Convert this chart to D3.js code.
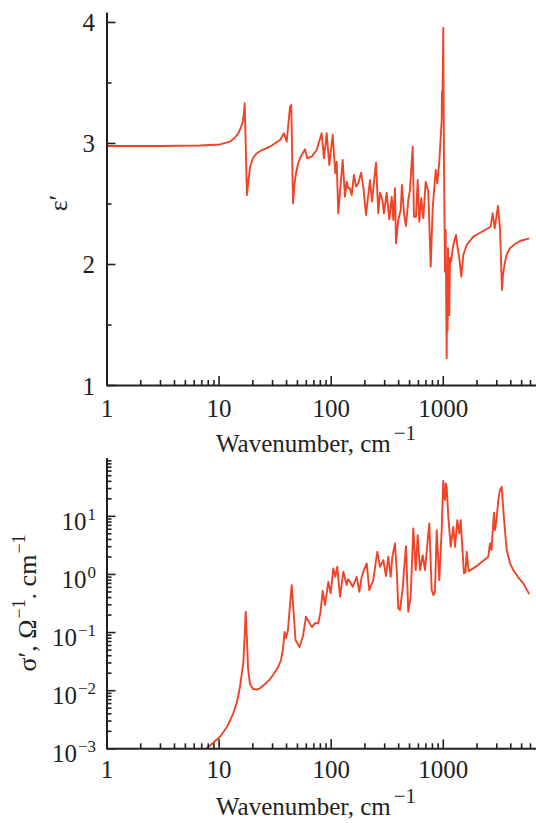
<!DOCTYPE html>
<html>
<head>
<meta charset="utf-8">
<script src="https://cdn.jsdelivr.net/npm/d3@7"></script>
<style>
  html, body { margin: 0; padding: 0; background: #fff; }
  svg { display: block; }
  text { font-family: "Liberation Serif", "Times New Roman", serif; fill: #231f20; }
</style>
</head>
<body>
<svg id="chart" width="536" height="823"></svg>
<script>
// Real part of permittivity, eps'(nu)
const epsNu = [1, 3.0, 6.82, 10.3, 12.6, 13.72, 15.0, 15.85, 16.4, 16.85, 17.1, 17.9, 18.3, 19.1, 20.27, 21.9, 24.39, 28.7,
  35.3, 38.3, 40.5, 43.4, 44.5, 46.1, 47.5, 49.0, 51.1, 53.2, 59.0, 61.8, 67.7, 75.0, 83.1, 87.1, 92.1, 97.2,
  104.2, 109.9, 113.1, 116.9, 127.9, 134.2, 138.9, 143.5, 148.6, 153.9, 161.4, 168.2, 176.3, 186.4, 195.4,
  206.5, 224.2, 233.6, 253.6, 265.9, 275.4, 288.7, 298.9, 315.9, 333.3, 350.2, 361.9, 374.7, 382.5, 400.9,
  421.1, 432.5, 450.7, 469.6, 492.3, 509.8, 538.9, 553.5, 576.7, 597.2, 617.2, 643.0, 669.9, 704.0, 742.6,
  780.2, 812.9, 864.6, 893.4, 930.9, 977.7, 983.8, 992, 1001, 1010, 1018, 1025, 1046, 1061, 1083, 1095, 1105, 1113,
  1125, 1143, 1160, 1184, 1241, 1312, 1358, 1404, 1463, 1524, 1634, 1872, 2061, 2298, 2675, 2787, 2904, 3108,
  3238, 3375, 3443, 3588, 3739, 3977, 4407, 4884, 5909];
const epsVal = [2.975, 2.975, 2.979, 2.988, 3.011, 3.037, 3.080, 3.132, 3.176, 3.248, 3.328, 2.570, 2.653, 2.804, 2.876, 2.915, 2.942, 2.969,
  3.025, 3.080, 3.011, 3.300, 3.314, 2.502, 2.653, 2.750, 2.826, 2.874, 2.948, 2.874, 2.887, 2.942, 3.080, 2.874, 3.080, 2.818,
  3.066, 2.750, 2.845, 2.419, 2.860, 2.556, 2.680, 2.626, 2.626, 2.570, 2.736, 2.639, 2.667, 2.755, 2.639,
  2.405, 2.694, 2.515, 2.837, 2.419, 2.589, 2.529, 2.419, 2.589, 2.369, 2.556, 2.364, 2.626, 2.171, 2.364,
  2.446, 2.653, 2.419, 2.314, 2.529, 2.612, 2.969, 2.391, 2.391, 2.694, 2.350, 2.543, 2.378, 2.680, 2.598,
  1.978, 2.460, 2.777, 2.667, 2.845, 3.190, 3.424, 3.300, 3.620, 3.953, 3.400, 2.835, 1.936, 2.281, 1.221, 1.950, 1.450, 2.130,
  1.750, 1.579, 2.050, 2.019, 2.157, 2.240, 2.130, 2.047, 1.895, 2.074, 2.157, 2.226, 2.248, 2.273, 2.308, 2.419, 2.295, 2.479,
  2.295, 1.785, 1.909, 2.019, 2.083, 2.130, 2.165, 2.190, 2.212];

// Real part of conductivity, sigma'(nu), Ohm^-1 cm^-1
const sigNu = [7.83, 8.91, 10.29, 11.88, 13.52, 14.59, 15.52, 16.17, 16.61, 17.02, 17.45, 17.92, 18.30, 19.06, 20.27, 21.88,
  23.40, 25.94, 28.74, 31.85, 34.09, 36.03, 37.55, 38.72, 39.93, 41.60, 43.35, 44.88, 46.57, 48.53, 52.69, 56.62,
  60.22, 65.36, 68.11, 72.44, 77.5, 81.1, 84.9, 88.95, 95.2, 100, 105.5, 109.9, 114.5, 121.1, 129.6, 138.9, 142.7,
  148.6, 157.1, 170.6, 179.9, 188.3, 195.4, 209.5, 221.0, 239.9, 260.4, 275.4, 294.6, 311.5, 326.5, 343.0, 354.4,
  374.7, 390.4, 400.9, 415.2, 438.9, 450.7, 469.6, 492.3, 517.1, 545.8, 573.3, 597.2, 626.0, 661.9, 693.8, 722.9,
  758.1, 796.2, 826.2, 851.9, 882.3, 930.9, 977.7, 994, 1010, 1028, 1046, 1064, 1083, 1120, 1177, 1241, 1285, 1347, 1404, 1444,
  1505, 1546, 1594, 1634, 1702, 1822, 2061, 2284, 2546, 2636, 2719, 2862, 2922, 3013, 3127, 3238, 3354, 3443,
  3515, 3716, 3976, 4255, 4688, 5226, 5909];
const sigVal = [0.00100, 0.00123, 0.00158, 0.00232, 0.0040, 0.00625, 0.01146, 0.0205, 0.0290, 0.0729, 0.2234, 0.0729, 0.0240, 0.01276, 0.01047, 0.01026,
  0.01076, 0.01276, 0.01537, 0.0205, 0.0253, 0.0330, 0.0510, 0.100, 0.0788, 0.1083, 0.291, 0.643, 0.239, 0.0729, 0.0552, 0.0853,
  0.1833, 0.1373, 0.1219, 0.1428, 0.1411, 0.2208, 0.513, 0.291, 0.733, 0.463, 1.246, 0.893, 1.327, 0.4046, 1.089, 0.643, 0.815,
  0.733, 0.601, 0.893, 0.493, 0.848, 1.089, 1.518, 0.528, 0.784, 2.404, 1.327, 1.731, 0.918, 1.972, 0.893, 1.926,
  3.353, 0.955, 0.2557, 0.239, 0.5645, 1.165, 3.013, 0.2234, 0.4046, 6.07, 1.165, 4.657, 1.165, 2.110, 1.165, 2.784,
  7.40, 0.528, 0.4328, 0.493, 5.677, 0.784, 5.677, 15.5, 40.0, 24.0, 18.6, 36.0, 31.5, 9.61, 2.931, 6.47, 2.931, 8.43, 4.98, 8.43,
  2.257, 1.022, 1.076, 2.404, 1.119, 1.212, 1.420, 1.663, 1.972, 3.353, 2.572, 11.26, 5.677, 8.43, 18.6, 27.7, 31.5, 15.28,
  9.02, 2.572, 1.537, 1.165, 0.883, 0.688, 0.450];

// Axis ticks
const xMajor = [1, 10, 100, 1000];
const xMinor = [2, 3, 4, 5, 6, 7, 8, 9, 20, 30, 40, 50, 60, 70, 80, 90, 200, 300, 400, 500, 600, 700, 800, 900,
  2000, 3000, 4000, 5000, 6000];
const epsMajor = [1, 2, 3, 4];
const epsMinor = [1.5, 2.5, 3.5];
const sigMajor = [1e-3, 1e-2, 1e-1, 1, 10];
const sigExp = ["−3", "−2", "−1", "0", "1"];
const sigMinor = [2e-3, 3e-3, 4e-3, 5e-3, 6e-3, 7e-3, 8e-3, 9e-3, 2e-2, 3e-2, 4e-2, 5e-2, 6e-2, 7e-2, 8e-2, 9e-2,
  0.2, 0.3, 0.4, 0.5, 0.6, 0.7, 0.8, 0.9, 2, 3, 4, 5, 6, 7, 8, 9, 20, 30, 40, 50, 60, 70, 80, 90];

const lineColor = "#ef4427";
const axisColor = "#231f20";
const svg = d3.select("#chart");

const x = d3.scaleLog().domain([1, 6800]).range([106.5, 536.1]);
const yEps = d3.scaleLinear().domain([1, 4.08]).range([385, 12.3]);
const ySig = d3.scaleLog().domain([1e-3, 100]).range([748.3, 457.7]);

function styleAxis(g) {
  g.selectAll("path.domain").attr("stroke", axisColor).attr("stroke-width", 2);
  g.selectAll(".tick line").attr("stroke", axisColor).attr("stroke-width", 1.6);
}

function xAxes(y0, labelBaseline) {
  const gMin = svg.append("g").attr("transform", `translate(0,${y0})`)
    .call(d3.axisBottom(x).tickValues(xMinor).tickSizeInner(-5).tickSizeOuter(0).tickFormat(""));
  styleAxis(gMin);
  gMin.select("path.domain").remove();
  const g = svg.append("g").attr("transform", `translate(0,${y0})`)
    .call(d3.axisBottom(x).tickValues(xMajor).tickSizeInner(-9).tickSizeOuter(0).tickFormat(d3.format("d")));
  styleAxis(g);
  g.selectAll(".tick text").attr("y", labelBaseline - y0).attr("dy", 0)
    .attr("font-size", 25).attr("font-family", "Liberation Serif, Times New Roman, serif").attr("fill", axisColor);
}

// ---------- upper panel: eps' ----------
const line1 = d3.line().x((d, i) => x(epsNu[i])).y(d => yEps(d));
svg.append("path").datum(epsVal).attr("d", line1)
  .attr("fill", "none").attr("stroke", lineColor).attr("stroke-width", 1.9).attr("stroke-linejoin", "round");

{
  const gMin = svg.append("g").attr("transform", "translate(106.5,0)")
    .call(d3.axisLeft(yEps).tickValues(epsMinor).tickSizeInner(-5).tickSizeOuter(0).tickFormat(""));
  styleAxis(gMin);
  const g = svg.append("g").attr("transform", "translate(106.5,0)")
    .call(d3.axisLeft(yEps).tickValues(epsMajor).tickSizeInner(-9).tickSizeOuter(0).tickFormat(d3.format("d")).tickPadding(11.5));
  styleAxis(g);
  g.selectAll(".tick text").attr("dy", "0.36em").attr("font-size", 25)
    .attr("font-family", "Liberation Serif, Times New Roman, serif").attr("fill", axisColor);
}
xAxes(385, 416.5);

svg.append("text").attr("transform", "translate(67,203) rotate(-90)")
  .attr("text-anchor", "middle").attr("font-size", 26).text("ε′");

function xTitle(baseline) {
  const t = svg.append("text").attr("x", 216).attr("y", baseline).attr("font-size", 25);
  t.append("tspan").text("Wavenumber, cm");
  t.append("tspan").attr("font-size", 21).attr("dy", -12).attr("dx", 3).text("−1");
}
xTitle(452);

// ---------- lower panel: sigma' ----------
const line2 = d3.line().x((d, i) => x(sigNu[i])).y(d => ySig(d));
svg.append("path").datum(sigVal).attr("d", line2)
  .attr("fill", "none").attr("stroke", lineColor).attr("stroke-width", 1.9).attr("stroke-linejoin", "round");

{
  const gMin = svg.append("g").attr("transform", "translate(106.5,0)")
    .call(d3.axisLeft(ySig).tickValues(sigMinor).tickSizeInner(-5).tickSizeOuter(0).tickFormat(""));
  styleAxis(gMin);
  const g = svg.append("g").attr("transform", "translate(106.5,0)")
    .call(d3.axisLeft(ySig).tickValues(sigMajor).tickSizeInner(-9).tickSizeOuter(0).tickFormat("").tickPadding(10));
  styleAxis(g);
  g.selectAll(".tick text").each(function (d, i) {
    const t = d3.select(this).attr("dy", 0).attr("y", 13.5).attr("x", -10.5)
      .attr("font-size", 25).attr("font-family", "Liberation Serif, Times New Roman, serif").attr("fill", axisColor);
    t.append("tspan").text("10");
    t.append("tspan").attr("font-size", 17).attr("dy", -10).attr("dx", 1).text(sigExp[i]);
  });
}
xAxes(748.3, 778.3);

{
  const t = svg.append("text").attr("transform", "translate(36,603) rotate(-90)")
    .attr("text-anchor", "middle").attr("font-size", 26);
  t.append("tspan").text("σ′, Ω");
  t.append("tspan").attr("font-size", 18).attr("dy", -11).attr("dx", 1).text("−1");
  t.append("tspan").attr("dy", 11).text(". cm");
  t.append("tspan").attr("font-size", 18).attr("dy", -11).attr("dx", 1).text("−1");
}
xTitle(815);
</script>
</body>
</html>
